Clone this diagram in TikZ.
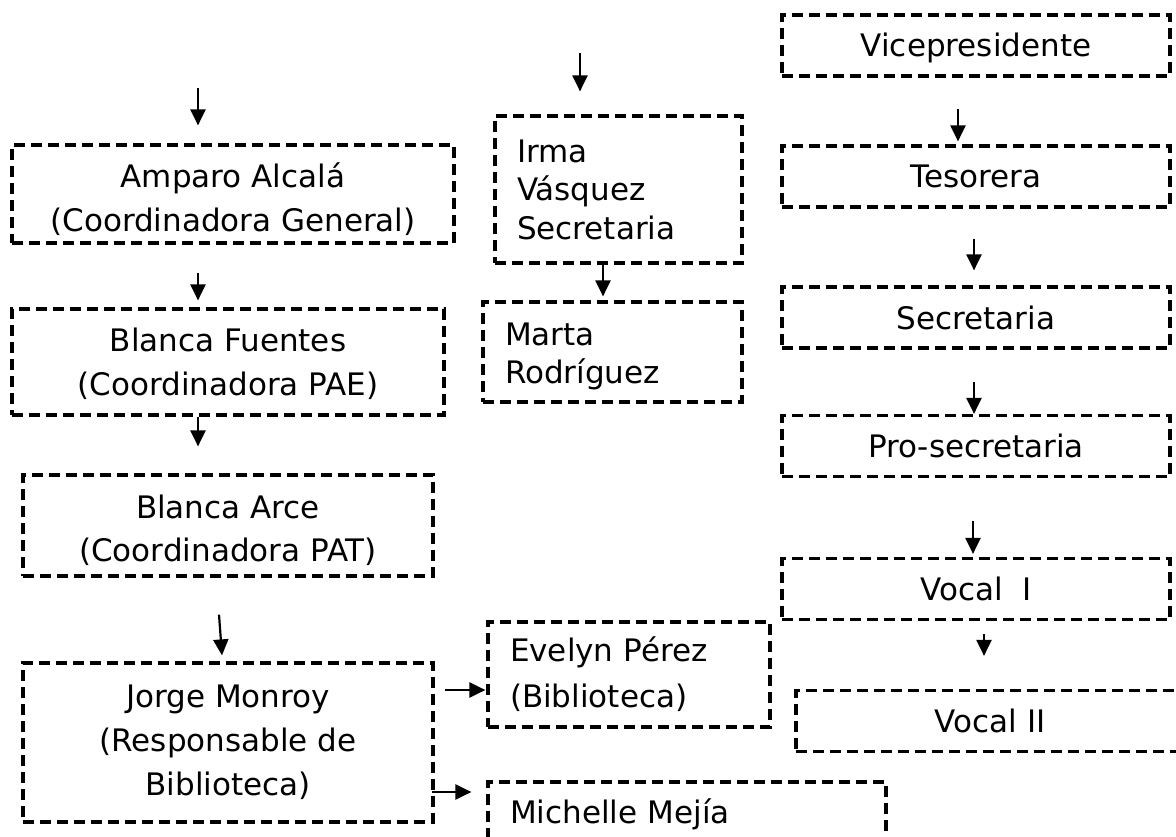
\documentclass[tikz,border=0pt]{standalone}
\usepackage{fontspec}
\setmainfont{DejaVu Sans}
\usetikzlibrary{arrows.meta}

\begin{document}
\begin{tikzpicture}[x=1pt, y=-1pt,
        every node/.style={font=\fontsize{31}{43.5}\selectfont},
        box/.style={draw, dashed, dash pattern=on 11pt off 6pt, line width=3.2pt,
                    rectangle, inner sep=0pt, align=center},
        lbox/.style={box, align=left, inner xsep=22pt, inner ysep=0pt,
                    font=\fontsize{31}{38.5}\selectfont},
        rbox/.style={box, minimum width=388, minimum height=61, text height=23pt, text depth=0pt},
        arr/.style={-{Triangle[width=15pt,length=16pt]}, line width=2.2pt}]

        \useasboundingbox (0,0) rectangle (1176,837);
        \clip (0,0) rectangle (1176,837);

        \node[box, minimum width=442, minimum height=98, text height=82pt, text depth=7pt] (amparo) at (233,194)
            {Amparo Alcalá\\(Coordinadora General)};
        \node[box, minimum width=432, minimum height=106, text height=73pt, text depth=7pt] (fuentes) at (228,362)
            {Blanca Fuentes\\(Coordinadora PAE)};
        \node[box, minimum width=410, minimum height=101, text height=79pt, text depth=7pt] (arce) at (228,525.5)
            {Blanca Arce\\(Coordinadora PAT)};
        \node[box, minimum width=410, minimum height=159, font=\fontsize{31}{44}\selectfont] (monroy) at (228,742.5)
            {Jorge Monroy\\(Responsable de\\Biblioteca)};

        \node[lbox, text width=203, minimum height=147] (irma) at (618.5,189.5)
            {Irma\\Vásquez\\Secretaria};
        \node[lbox, text width=215, minimum height=100, text height=32pt, text depth=46pt] (marta) at (612.5,352)
            {Marta\\Rodríguez};
        \node[lbox, text width=238, minimum height=105, font=\fontsize{31}{46}\selectfont] (evelyn) at (629,674.5)
            {Evelyn Pérez\\(Biblioteca)};
        \node[lbox, text width=354, minimum height=59, text height=23pt, text depth=0pt] (michelle) at (687,811.5)
            {Michelle Mejía};

        \node[rbox] (vice) at (976,45.5) {Vicepresidente};
        \node[rbox] (tesorera) at (976,176.5) {Tesorera};
        \node[rbox] (secretaria) at (976,317.5) {Secretaria};
        \node[rbox] (prosec) at (976,446) {Pro-secretaria};
        \node[rbox] (vocal1) at (976,589) {Vocal\ \ I};
        \node[rbox] (vocal2) at (990,721) {Vocal II};

        \draw[arr] ([xshift=-35pt,yshift=55pt]amparo.north) -- ([xshift=-35pt,yshift=18pt]amparo.north);
        \draw[arr] ([xshift=-35pt,yshift=-28pt]amparo.south) -- ([xshift=-30pt,yshift=7pt]fuentes.north);
        \draw[arr] ([xshift=-30pt]fuentes.south) -- ([xshift=-30pt,yshift=27pt]arce.north);
        \draw[arr] ([xshift=-9pt,yshift=-37pt]arce.south) -- ([xshift=-6pt,yshift=6pt]monroy.north);
        \draw[arr] ([xshift=10pt,yshift=52.5pt]monroy.east) -- ([xshift=-1pt,yshift=-15.5pt]evelyn.west);
        \draw[arr] ([xshift=-3pt,yshift=-49.5pt]monroy.east) -- ([xshift=-15pt,yshift=19.5pt]michelle.west);

        \draw[arr] ([xshift=-38.5pt,yshift=61pt]irma.north) -- ([xshift=-38.5pt,yshift=23pt]irma.north);
        \draw[arr] ([xshift=-15.5pt]irma.south) -- ([xshift=-9.5pt,yshift=4pt]marta.north);

        \draw[arr] ([xshift=-18pt,yshift=-31pt]vice.south) -- ([xshift=-18pt,yshift=3pt]tesorera.north);
        \draw[arr] ([xshift=-2pt,yshift=-30pt]tesorera.south) -- ([xshift=-2pt,yshift=15pt]secretaria.north);
        \draw[arr] ([xshift=-2pt,yshift=-32pt]secretaria.south) -- ([xshift=-2pt]prosec.north);
        \draw[arr] ([xshift=-3pt,yshift=-43pt]prosec.south) -- ([xshift=-3pt,yshift=3pt]vocal1.north);
        \draw[arr] ([xshift=8pt,yshift=-13pt]vocal1.south) -- ([xshift=-6pt,yshift=33pt]vocal2.north);
\end{tikzpicture}
\end{document}
